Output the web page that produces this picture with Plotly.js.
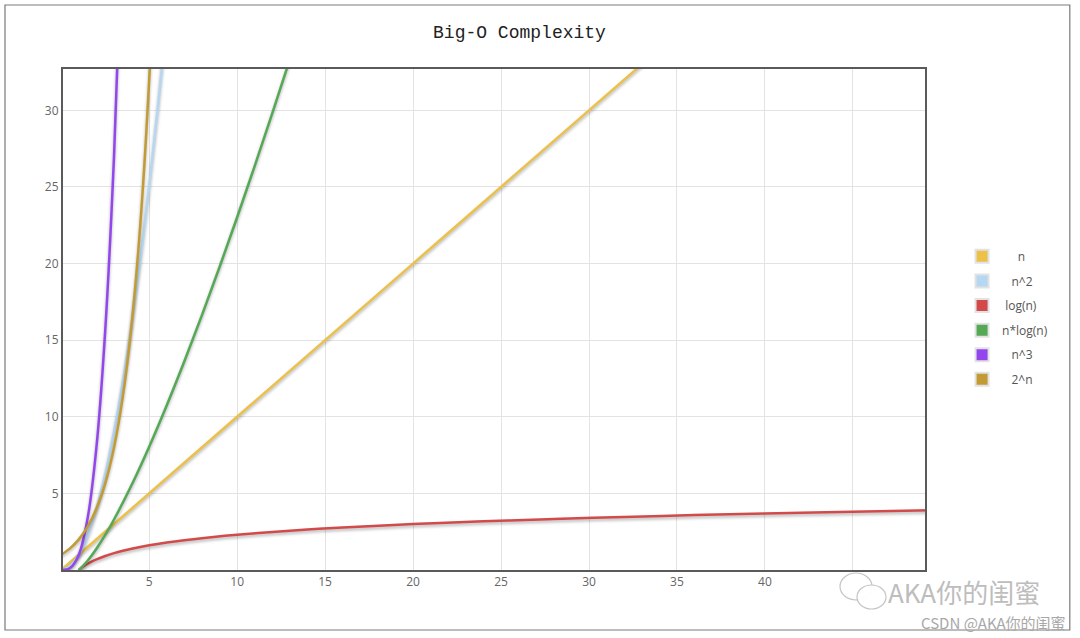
<!DOCTYPE html>
<html>
<head>
<meta charset="utf-8">
<script src="https://cdn.plot.ly/plotly-3.0.1.min.js"></script>
<style>
html,body{margin:0;padding:0;background:#fff;}
#chart{width:1080px;height:638px;}
</style>
</head>
<body>
<div id="chart"></div>
<script>
// ---- data ----
const seriesNames = ["n", "n^2", "log(n)", "n*log(n)", "n^3", "2^n"];
const seriesColors = ["#ecc14a", "#b5d7f2", "#d24a4a", "#55a855", "#9446ee", "#c29b35"];

const nX = [0, 10, 20, 30, 34];
const nY = [0, 10, 20, 30, 34];

const n2X = [0, 0.5, 1, 1.5, 2, 2.5, 3, 3.5, 4, 4.5, 5, 5.5, 6];
const n2Y = [0, 0.25, 1, 2.25, 4, 6.25, 9, 12.25, 16, 20.25, 25, 30.25, 36];

const logX = [1, 1.25, 1.5, 1.75, 2, 2.5, 3, 3.5, 4, 5, 6, 7, 8, 10, 12, 14, 16, 20, 24, 28, 32, 36, 40, 45, 49.5];
const logY = [0, 0.223, 0.405, 0.560, 0.693, 0.916, 1.099, 1.253, 1.386, 1.609, 1.792, 1.946, 2.079, 2.303, 2.485, 2.639, 2.773, 2.996, 3.178, 3.332, 3.466, 3.584, 3.689, 3.807, 3.902];

const nlogX = [1, 1.5, 2, 2.5, 3, 4, 5, 6, 7, 8, 9, 10, 11, 12, 13];
const nlogY = [0, 0.608, 1.386, 2.291, 3.296, 5.545, 8.047, 10.751, 13.621, 16.636, 19.775, 23.026, 26.377, 29.819, 33.344];

const n3X = [0, 0.5, 1, 1.5, 2, 2.5, 3, 3.5];
const n3Y = [0, 0.125, 1, 3.375, 8, 15.625, 27, 42.875];

const p2X = [0, 0.5, 1, 1.5, 2, 2.5, 3, 3.5, 4, 4.5, 5, 5.5];
const p2Y = [1, 1.414, 2, 2.828, 4, 5.657, 8, 11.314, 16, 22.627, 32, 45.255];

const xTickVals = [5, 10, 15, 20, 25, 30, 35, 40, 45];
const xTickText = ["5", "10", "15", "20", "25", "30", "35", "40", ""];
const yTickVals = [5, 10, 15, 20, 25, 30];

// legend labels padded to look centred like the reference
const legendLabels = ["\u00a0\u00a0\u00a0\u00a0\u00a0n", "\u00a0\u00a0\u00a0n^2", "\u00a0log(n)", "n*log(n)", "\u00a0\u00a0\u00a0n^3", "\u00a0\u00a0\u00a02^n"];

const xs = [nX, n2X, logX, nlogX, n3X, p2X];
const ys = [nY, n2Y, logY, nlogY, n3Y, p2Y];

const traces = [];
for (let i = 0; i < seriesNames.length; i++) {
  traces.push({
    type: "scatter", mode: "lines", name: seriesNames[i],
    x: xs[i], y: ys[i],
    line: {color: seriesColors[i], width: 2.5, shape: "spline", smoothing: 1},
    showlegend: false, hoverinfo: "x+y+name", cliponaxis: true
  });
}
for (let i = 0; i < seriesNames.length; i++) {
  traces.push({
    type: "scatter", mode: "markers", name: legendLabels[i],
    x: [null], y: [null],
    marker: {symbol: "square", size: 13, color: seriesColors[i], line: {color: "#e2e2e2", width: 2}},
    showlegend: true, legendgroup: "g" + i
  });
}

const layout = {
  width: 1080, height: 638,
  paper_bgcolor: "#fff", plot_bgcolor: "#fff",
  margin: {l: 63, r: 155, t: 69, b: 68},
  title: {text: "Big-O Complexity", x: 0.481, xanchor: "center", y: 0.951, yanchor: "middle",
    font: {family: "Liberation Mono, monospace", size: 18, color: "#222"}},
  xaxis: {range: [0.1, 49.1], tickvals: xTickVals, ticktext: xTickText,
    showgrid: true, gridcolor: "#e3e3e3", gridwidth: 1, zeroline: false,
    showline: true, linecolor: "#5a5a5a", linewidth: 2, mirror: true, ticks: "",
    tickfont: {family: "Open Sans, sans-serif", size: 12, color: "#666"}},
  yaxis: {range: [0, 32.7], tickvals: yTickVals,
    showgrid: true, gridcolor: "#e3e3e3", gridwidth: 1, zeroline: false,
    showline: true, linecolor: "#5a5a5a", linewidth: 2, mirror: true, ticks: "",
    tickfont: {family: "Open Sans, sans-serif", size: 12, color: "#666"}},
  legend: {x: 1.043, xanchor: "left", y: 0.655, yanchor: "top",
    font: {family: "Open Sans, sans-serif", size: 12, color: "#555"},
    traceorder: "grouped", tracegroupgap: 5.6, bgcolor: "rgba(0,0,0,0)"},
  shapes: [
    {type: "rect", xref: "paper", yref: "paper",
      x0: -0.0673, x1: 1.168, y0: -0.1198, y1: 1.1277,
      line: {color: "#7a7a7a", width: 1.2}, fillcolor: "rgba(0,0,0,0)", layer: "below"},
    {type: "circle", xref: "paper", yref: "paper",
      x0: (840 - 63) / 862, x1: (872 - 63) / 862, y0: -(600 - 570) / 501, y1: -(573 - 570) / 501,
      line: {color: "#c4c4c4", width: 1.2}, fillcolor: "rgba(255,255,255,0.9)", layer: "above"},
    {type: "circle", xref: "paper", yref: "paper",
      x0: (857 - 63) / 862, x1: (886 - 63) / 862, y0: -(609 - 570) / 501, y1: -(585 - 570) / 501,
      line: {color: "#c4c4c4", width: 1.2}, fillcolor: "rgba(255,255,255,0.95)", layer: "above"}
  ],
  annotations: [
    {xref: "paper", yref: "paper", x: (886 - 63) / 862, y: -(591 - 570) / 501,
      xanchor: "left", yanchor: "middle", showarrow: false, text: "AKA你的闺蜜",
      font: {family: "Noto Sans CJK SC, sans-serif", size: 26, color: "#bdbdbd"}},
    {xref: "paper", yref: "paper", x: (1068 - 63) / 862, y: -(622 - 570) / 501,
      xanchor: "right", yanchor: "middle", showarrow: false, text: "CSDN @AKA你的闺蜜",
      font: {family: "Noto Sans CJK SC, sans-serif", size: 15, color: "#a8a8a8"}}
  ],
  hovermode: "closest"
};

Plotly.newPlot("chart", traces, layout, {displayModeBar: false, staticPlot: false}).then(function (gd) {
  gd.querySelectorAll(".scatterlayer .trace path.js-line").forEach(function (p) {
    p.style.filter = "drop-shadow(0px 2px 1.5px rgba(0,0,0,0.3))";
  });
});
</script>
</body>
</html>
